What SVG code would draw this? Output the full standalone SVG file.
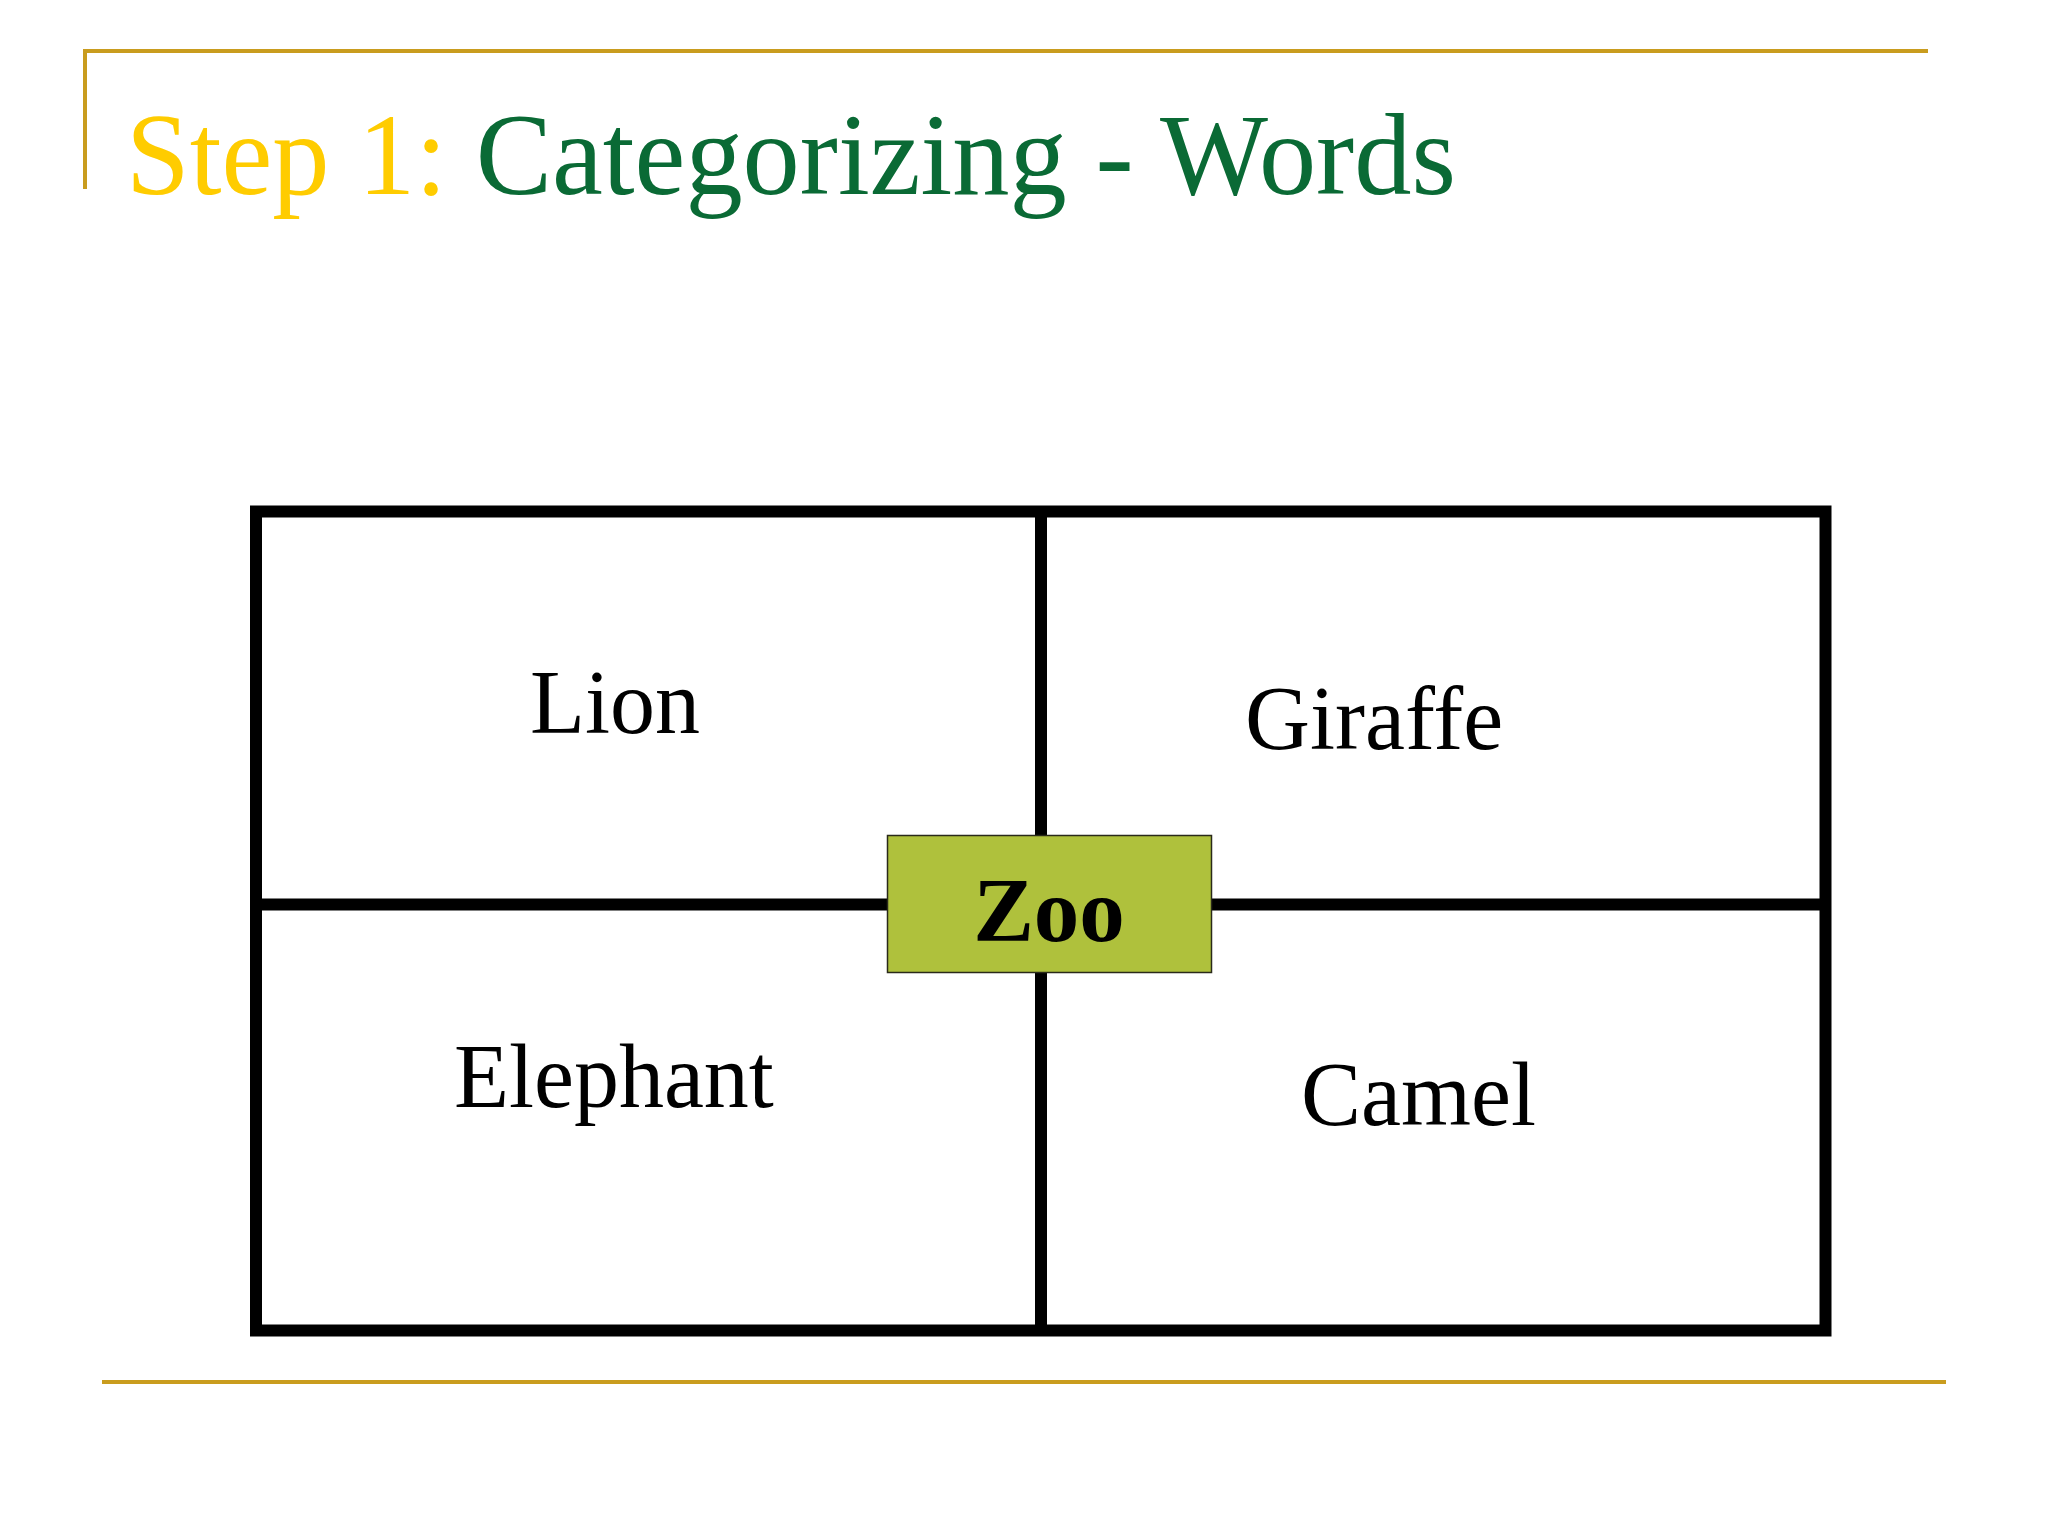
<svg xmlns="http://www.w3.org/2000/svg" width="2048" height="1536" viewBox="0 0 2048 1536">
  <style>
    .rule { stroke: #C99C1E; stroke-width: 4; fill: none; }
    .grid { stroke: #000000; stroke-width: 12; fill: none; }
    .word { font-family: "Liberation Serif", "Times New Roman", serif; font-size: 90px; fill: #000000; }
    .title { font-family: "Liberation Serif", "Times New Roman", serif; font-size: 116px; }
  </style>
  <rect x="0" y="0" width="2048" height="1536" fill="#FFFFFF"/>
  <g id="frame">
    <path class="rule" d="M85 189 V51 H1928"/>
    <path class="rule" d="M102 1382 H1946"/>
  </g>
  <g id="title">
    <text class="title" x="126" y="194" textLength="1330" lengthAdjust="spacingAndGlyphs"><tspan fill="#FFCC00">Step 1: </tspan><tspan fill="#0A6A35">Categorizing - Words</tspan></text>
  </g>
  <g id="connectors">
    <rect class="grid" x="256" y="511.5" width="1569.5" height="819"/>
    <line class="grid" x1="1041" y1="511.5" x2="1041" y2="1330.5"/>
    <line class="grid" x1="256" y1="904.5" x2="1825.5" y2="904.5"/>
  </g>
  <g id="node-lion"><text class="word" x="530" y="733">Lion</text></g>
  <g id="node-giraffe"><text class="word" x="1245" y="749">Giraffe</text></g>
  <g id="node-elephant"><text class="word" x="454" y="1107">Elephant</text></g>
  <g id="node-camel"><text class="word" x="1301" y="1125">Camel</text></g>
  <g id="node-zoo">
    <rect x="887.5" y="835.5" width="324" height="137" fill="#AFC13C" stroke="#2A2A1A" stroke-width="1.5"/>
    <text x="1049" y="941" text-anchor="middle" font-family="'Liberation Serif', 'Times New Roman', serif" font-size="91" font-weight="bold" fill="#000000">Zoo</text>
  </g>
</svg>
